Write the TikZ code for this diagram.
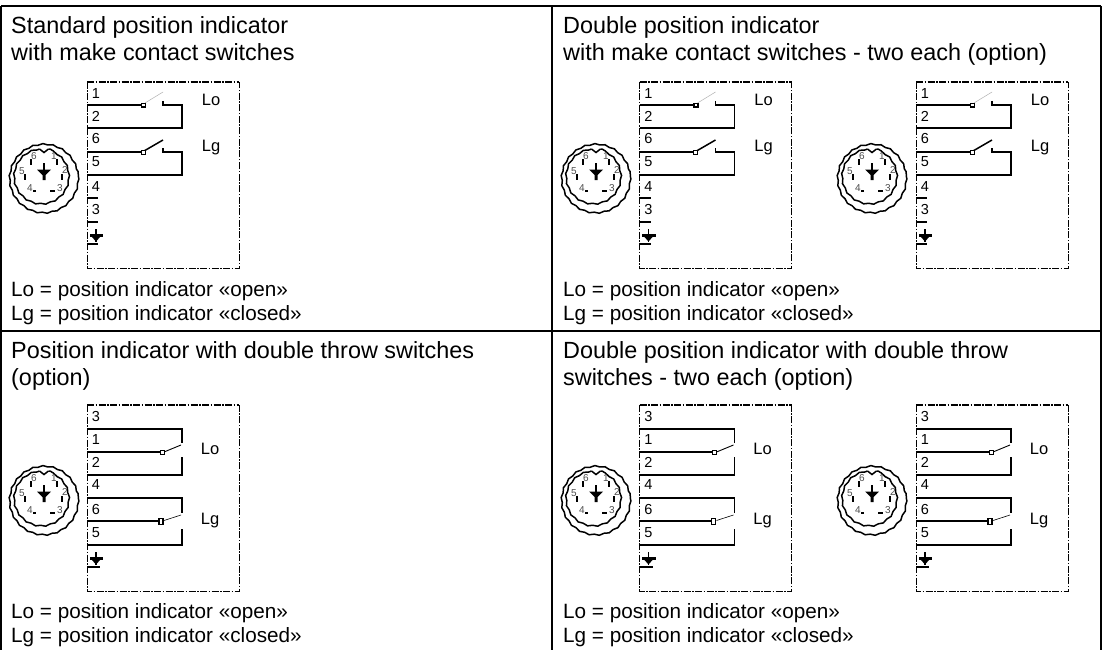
\documentclass[tikz,border=0pt]{standalone}
\usepackage{fontspec}
\setmainfont{Liberation Sans}
\usetikzlibrary{decorations.pathmorphing}
\tikzset{x=1pt,y=-1pt,
  frameline/.style={line width=1.8pt,black},
  dashbox/.style={line width=0.9pt,black,dash pattern=on 7pt off 1.5pt on 1.5pt off 1.5pt},
  dashtop/.style={line width=1.7pt,black,dash pattern=on 7pt off 1.5pt on 1.5pt off 1.5pt},
  wire/.style={line width=1.6pt,black,line cap=butt},
  tickmark/.style={line width=2.4pt,black},
  lbl/.style={font=\fontsize{23.4}{26}\selectfont,anchor=base west,inner sep=0pt,align=left},
  legend/.style={font=\fontsize{20.7}{23}\selectfont,anchor=base west,inner sep=0pt},
  num/.style={font=\fontsize{14.5}{15}\selectfont,anchor=center,inner sep=0pt},
  pinlabel/.style={font=\fontsize{10}{10}\selectfont,text=black!70,anchor=center,inner sep=0pt},
  side/.style={font=\fontsize{16.5}{17}\selectfont,anchor=center,inner sep=0pt}}
% connector with centre at (#1,#2)
\newcommand{\plug}[2]{%
  \begin{scope}[shift={(#1,#2)}]
    \draw[line width=1.5pt,decorate,decoration={snake,segment length=10pt,amplitude=0.6pt}] (0,0) circle[radius=34.3];
    \draw[line width=1.5pt,decorate,decoration={snake,segment length=10pt,amplitude=0.6pt}] (-4.5,-27) arc[start angle=-99.5,end angle=-440.5,radius=27.4];
    \draw[line width=1.5pt] (-4.5,-27)--(0,-23.5)--(4.5,-27);
    \draw[line width=2.4pt] (13,-17)--(13,-11) (18,-2)--(18,4) (6,15)--(11,15) (-11,15)--(-8,15) (-19,-2)--(-19,4) (-13,-17)--(-13,-11);
    \node[pinlabel] at (10,-20) {1};\node[pinlabel] at (21,-6) {2};\node[pinlabel] at (16,12) {3};
    \node[pinlabel] at (-14,12) {4};\node[pinlabel] at (-22,-5) {5};\node[pinlabel] at (-10,-20) {6};
    \fill (-7,-6.5)--(7,-6.5)--(1.5,-1)--(1.5,4)--(-1.5,4)--(-1.5,-1)--cycle;
    \draw[line width=2pt] (0,-13)--(0,-5);
  \end{scope}}
\newcommand{\gnd}{%
  \draw[line width=1.5pt] (9,147)--(9,160);
  \fill (2.5,152) rectangle (16,154.5);
  \fill (4.5,154.5)--(13.5,154.5)--(9,159.5)--cycle;}
% make contact panel: box left x, top y
\newcommand{\makepanel}[2]{%
  \begin{scope}[shift={(#1,#2)}]
    \draw[dashbox] (0,0)--(0,186)--(152,186)--(152,0);
    \draw[dashtop] (0,0)--(152,0);
    \foreach \yy in {23,46,70,93,116,140,162} {\draw[tickmark] (0,\yy)--(11,\yy);}
    \foreach \yy/\lab in {12/1,34/2,57/6,80/5,105/4,128/3} {\node[num] at (9,\yy) {\lab};}
    \gnd
    \draw[wire] (0,23)--(55,23);
    \draw[black!30,line width=0.5pt] (58,21)--(76,10);
    \draw[line width=1.4pt,fill=white] (54.5,21.5) rectangle (58.5,25);
    \draw[wire] (76,19)--(76,23)--(95,23)--(95,46)--(0,46);
    \draw[wire] (0,70)--(55,70);
    \draw[line width=1.5pt] (57,69)--(76,58);
    \draw[line width=1pt,fill=white] (54,68.5) rectangle (58,72);
    \draw[wire] (76,66)--(76,70)--(95,70)--(95,93)--(0,93);
    \node[side] at (124,18) {Lo};
    \node[side] at (124,66) {Lg};
  \end{scope}}
\newcommand{\throwpanel}[2]{%
  \begin{scope}[shift={(#1,#2)}]
    \draw[dashbox] (0,0)--(0,186)--(152,186)--(152,0);
    \draw[dashtop] (0,0)--(152,0);
    \foreach \yy in {24,47,70,93,116,140,162} {\draw[tickmark] (0,\yy)--(13,\yy);}
    \foreach \yy/\lab in {12/3,35/1,57/2,80/4,105/6,128/5} {\node[num] at (9,\yy) {\lab};}
    \gnd
    \draw[wire] (0,24)--(95,24)--(95,38);
    \draw[wire] (0,47)--(73,47);
    \draw[line width=0.9pt] (77,47)--(94,40);
    \draw[line width=1pt,fill=white] (73,45.5) rectangle (77,49);
    \draw[wire] (95,52)--(95,70)--(0,70);
    \draw[wire] (0,93)--(95,93)--(95,108);
    \draw[wire] (0,116)--(72,116);
    \draw[line width=0.6pt] (77,115.5)--(94,110);
    \draw[line width=1.6pt,fill=white] (72,113.5) rectangle (76,119.5);
    \draw[wire] (95,124)--(95,140)--(0,140);
    \node[side] at (123,44) {Lo};
    \node[side] at (123,116) {Lg};
  \end{scope}}
\begin{document}
\begin{tikzpicture}
\useasboundingbox (0,0) rectangle (1102,650);
\fill[white] (0,0) rectangle (1102,650);
\draw[frameline] (1,6)--(1101,6) (1,6)--(1,650) (1101,6)--(1101,650) (552,6)--(552,650) (0,331)--(1102,331);
\node[lbl] at (11,34) {Standard position indicator};
\node[lbl] at (11,61) {with make contact switches};
\node[lbl] at (563,34) {Double position indicator};
\node[lbl] at (563,61) {with make contact switches - two each (option)};
\node[lbl] at (11,358) {Position indicator with double throw switches};
\node[lbl] at (11,385) {(option)};
\node[lbl] at (563,358) {Double position indicator with double throw};
\node[lbl] at (563,385) {switches - two each (option)};
\foreach \xx in {11,563} {
 \node[legend] at (\xx,296) {Lo = position indicator «open»};
 \node[legend] at (\xx,320) {Lg = position indicator «closed»};
 \node[legend] at (\xx,618) {Lo = position indicator «open»};
 \node[legend] at (\xx,642) {Lg = position indicator «closed»};
}
\plug{44}{176}\makepanel{87}{82}
\plug{596}{176}\makepanel{639.5}{82}
\plug{872}{176}\makepanel{916}{82}
\plug{44}{498}\throwpanel{87}{405}
\plug{596}{498}\throwpanel{639.5}{405}
\plug{872}{498}\throwpanel{916}{405}
\end{tikzpicture}
\end{document}
